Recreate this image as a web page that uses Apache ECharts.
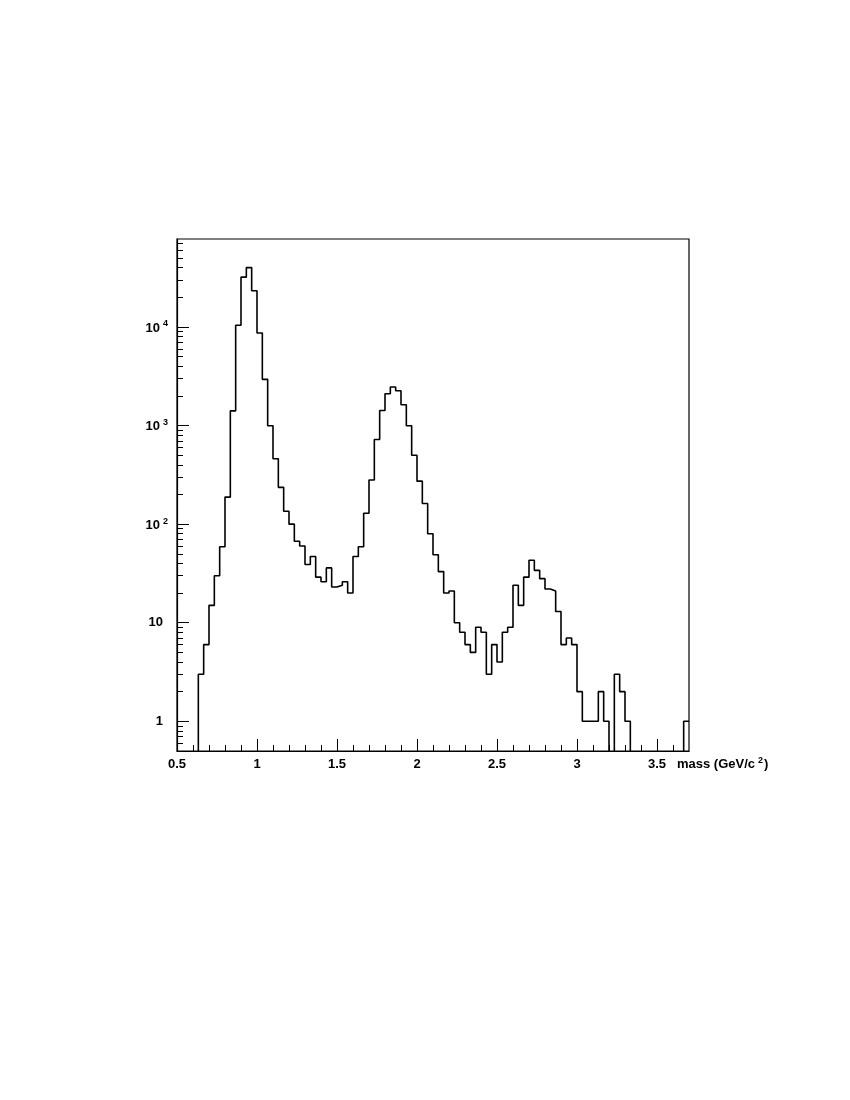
<!DOCTYPE html>
<html>
<head>
<meta charset="utf-8">
<script src="https://cdn.jsdelivr.net/npm/echarts@6/dist/echarts.min.js"></script>
<style>
  html, body { margin: 0; background: #fff; }
  #chart { width: 850px; height: 1100px; }
</style>
</head>
<body>
<div id="chart"></div>
<script>
// mass histogram: 96 bins of 1/30 GeV/c^2 from 0.5 to 3.7, counts
const binLow = 0.5
const binWidth = 1 / 30
const counts = [
  0, 0, 0, 0, 3, 6, 15, 30, 59, 188,
  1410, 10400, 32000, 40000, 23300, 8670, 2940, 995, 461, 236,
  135, 100, 67, 60, 39, 47, 29, 26, 36, 23,
  24, 26, 20, 47, 59, 129, 280, 722, 1423, 2104,
  2460, 2255, 1626, 995, 500, 273, 162, 80, 49, 33,
  20, 21, 10, 8, 6, 5, 9, 8, 3, 6,
  4, 8, 9, 24, 15, 29, 43, 34, 28, 22,
  21, 13, 6, 7, 6, 2, 1, 1, 1, 2,
  1, 0, 3, 2, 1, 0, 0, 0, 0, 0,
  0, 0, 0, 0, 0, 1
]

// tick positions
const xMajor = [0.5, 1, 1.5, 2, 2.5, 3, 3.5]
const xMinor = [0.6, 0.7, 0.8, 0.9, 1.1, 1.2, 1.3, 1.4, 1.6, 1.7, 1.8, 1.9,
  2.1, 2.2, 2.3, 2.4, 2.6, 2.7, 2.8, 2.9, 3.1, 3.2, 3.3, 3.4, 3.6]
const yMajor = [1, 10, 100, 1000, 10000]
const yMinor = [0.6, 0.7, 0.8, 0.9,
  2, 3, 4, 5, 6, 7, 8, 9,
  20, 30, 40, 50, 60, 70, 80, 90,
  200, 300, 400, 500, 600, 700, 800, 900,
  2000, 3000, 4000, 5000, 6000, 7000, 8000, 9000,
  20000, 30000, 40000, 50000, 60000, 70000]

const xMin = 0.5, xMax = 3.7
const yMin = 0.5, yMax = 78000

// empty bins drop below the frame (clipped), like ROOT does on a log axis
const FLOOR = 0.01
const outline = []
counts.forEach((c, i) => {
  const lo = binLow + i * binWidth
  const hi = lo + binWidth
  const v = c > 0 ? c : FLOOR
  outline.push([lo, v], [hi, v])
})

const font = "'Liberation Sans', Arial, Helvetica, sans-serif"
const black = '#000'
const txt = { fontFamily: font, fontWeight: 'bold', fontSize: 13, color: black }
const rich = {
  n: { ...txt, verticalAlign: 'bottom' },
  p: { ...txt, verticalAlign: 'bottom', padding: [0, 6, 0, 0] },
  sup: { ...txt, fontSize: 9, verticalAlign: 'bottom', padding: [0, 1, 6, 3] }
}

const options = {
  animation: false,
  backgroundColor: '#fff',
  grid: {
    left: 177, top: 239, width: 512, height: 512,
    show: true, borderColor: black, borderWidth: 1.2,
    containLabel: false
  },
  xAxis: [
    {
      type: 'value', min: xMin, max: xMax, position: 'bottom',
      axisLine: { show: true, lineStyle: { color: black, width: 1.2 } },
      axisTick: { show: true, inside: true, length: 12, customValues: xMajor, lineStyle: { color: black, width: 1 } },
      axisLabel: {
        show: true, customValues: xMajor, margin: 7, showMinLabel: true,
        ...txt, formatter: v => String(v)
      },
      splitLine: { show: false },
      name: '{n|mass (GeV/c}{sup|2}{n|)}',
      nameLocation: 'end',
      nameGap: -12,
      nameTextStyle: { ...txt, align: 'left', verticalAlign: 'top', padding: [5, 0, 0, 0], rich }
    },
    {
      type: 'value', min: xMin, max: xMax, position: 'bottom',
      axisLine: { show: false },
      axisTick: { show: true, inside: true, length: 6, customValues: xMinor, lineStyle: { color: black, width: 1 } },
      axisLabel: { show: false, customValues: xMinor },
      splitLine: { show: false }
    }
  ],
  yAxis: [
    {
      type: 'log', logBase: 10, min: yMin, max: yMax, position: 'left',
      axisLine: { show: true, lineStyle: { color: black, width: 1.2 } },
      axisTick: { show: true, inside: true, length: 12, customValues: yMajor, lineStyle: { color: black, width: 1 } },
      axisLabel: {
        show: true, customValues: yMajor, margin: 8,
        formatter: v => {
          const e = Math.round(Math.log10(v))
          if (e === 0) return '{p|1}'
          if (e === 1) return '{p|10}'
          return '{n|10}{sup|' + e + '}'
        },
        rich
      },
      splitLine: { show: false }
    },
    {
      type: 'log', logBase: 10, min: yMin, max: yMax, position: 'left',
      axisLine: { show: false },
      axisTick: { show: true, inside: true, length: 6, customValues: yMinor, lineStyle: { color: black, width: 1 } },
      axisLabel: { show: false, customValues: yMinor },
      splitLine: { show: false }
    }
  ],
  series: [
    {
      name: 'mass',
      type: 'line',
      xAxisIndex: 0,
      yAxisIndex: 0,
      data: outline,
      symbol: 'none',
      clip: true,
      lineStyle: { color: black, width: 1.6 }
    }
  ]
}

const chart = echarts.init(document.getElementById('chart'), null, { renderer: 'canvas' })
chart.setOption(options)
window.addEventListener('resize', () => {
  chart.resize()
})
</script>
</body>
</html>
